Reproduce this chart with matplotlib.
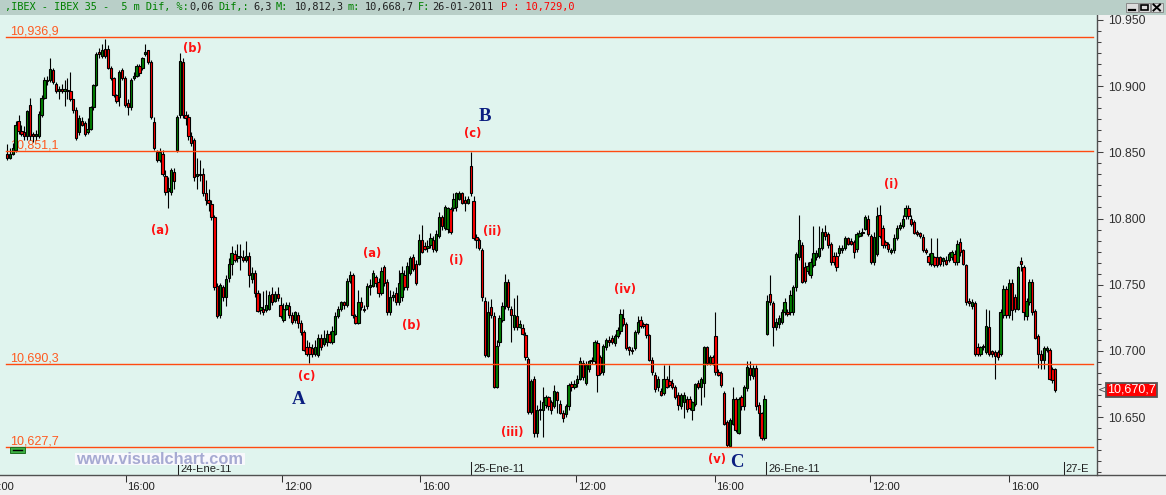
import matplotlib
matplotlib.use("Agg")
import matplotlib.pyplot as plt
import matplotlib.transforms as mtransforms
from matplotlib.patches import Rectangle
from matplotlib.lines import Line2D
from matplotlib.ticker import MultipleLocator, AutoMinorLocator, FuncFormatter
import numpy as np

# ---------------- data (5 minute bars, IBEX 35) ----------------
opens = [
    10849,10846,10849,10852,10874,10866,10865,10862,10886,10864,
    10862,10862,10878,10891,10905,10905,10912,10902,10896,10898,
    10896,10897,10896,10890,10882,10865,10874,10872,10865,10868,
    10884,10901,10926,10923,10928,10928,10914,10906,10893,10892,
    10912,10906,10887,10884,10906,10908,10915,10914,10924,10927,
    10918,10873,10850,10844,10849,10832,10821,10820,10835,10852,
    10878,10918,10878,10877,10862,10859,10832,10834,10834,10819,
    10814,10811,10801,10749,10727,10748,10741,10755,10766,10773,
    10770,10772,10771,10769,10772,10754,10759,10744,10731,10732,
    10731,10732,10743,10738,10743,10735,10723,10732,10734,10727,
    10723,10727,10721,10714,10703,10703,10702,10698,10697,10710,
    10705,10707,10713,10707,10713,10726,10732,10737,10735,10753,
    10757,10726,10721,10737,10732,10734,10748,10749,10756,10752,
    10744,10763,10752,10729,10741,10744,10737,10741,10757,10748,
    10759,10771,10766,10766,10784,10779,10778,10780,10784,10776,
    10787,10801,10793,10792,10807,10808,10809,10815,10819,10814,10812,
    10840,10813,10786,10784,10776,10738,10696,10733,10726,10673,
    10707,10723,10734,10752,10732,10718,10726,10718,10717,10712,
    10694,10654,10679,10638,10655,10655,10659,10665,10661,10658,
    10669,10660,10653,10652,10658,10675,10673,10676,10679,10691,
    10676,10686,10692,10692,10706,10695,10684,10703,10708,10710,
    10706,10711,10715,10725,10720,10703,10701,10702,10714,10723,
    10720,10720,10712,10693,10682,10673,10670,10668,10679,10677,
    10676,10673,10667,10658,10661,10664,10664,10655,10660,10676,
    10673,10676,10703,10691,10695,10711,10684,10683,10668,10646,
    10628,10645,10664,10638,10665,10658,10672,10687,10681,10687,10659,10653,10634,
    10713,10743,10736,10718,10720,10722,10729,10729,10729,10729,
    10748,10771,10780,10763,10760,10757,10765,10771,10772,10778,
    10790,10788,10781,10772,10772,10774,10776,10778,10785,10783,
    10782,10777,10787,10789,10792,10800,10787,10767,10773,10803,
    10793,10782,10781,10775,10776,10785,10793,10794,10802,10808,
    10800,10797,10790,10789,10786,10776,10772,10766,10771,10771,
    10771,10768,10769,10769,10771,10773,10767,10782,10776,10765,
    10738,10734,10736,10703,10698,10703,10699,10718,10700,10699,
    10699,10698,10727,10747,10727,10751,10741,10732,10768,10763,
    10726,10737,10752,10730,10711,10698,10693,10701,10701,10686,10686,
]
highs = [
    10856,10853,10857,10874,10878,10871,10870,10882,10891,10865,
    10867,10881,10893,10907,10908,10921,10914,10903,10900,10902,
    10905,10906,10911,10890,10884,10878,10877,10874,10876,10885,
    10902,10926,10929,10932,10936,10931,10915,10907,10894,10912,
    10914,10908,10890,10906,10911,10917,10917,10922,10932,10927,
    10920,10877,10852,10853,10852,10837,10831,10838,10838,10878,
    10925,10921,10881,10879,10865,10861,10846,10844,10838,10829,
    10822,10814,10803,10751,10751,10750,10757,10770,10779,10776,
    10781,10781,10776,10783,10775,10763,10761,10746,10744,10745,
    10746,10745,10748,10745,10748,10741,10736,10737,10737,10729,
    10730,10729,10723,10716,10708,10707,10705,10708,10713,10713,
    10716,10716,10715,10719,10729,10734,10738,10738,10755,10760,
    10759,10728,10746,10741,10735,10751,10754,10761,10757,10755,
    10763,10765,10754,10746,10745,10748,10761,10764,10761,10767,
    10772,10773,10769,10788,10795,10782,10784,10789,10787,10791,
    10805,10803,10810,10809,10809,10819,10820,10821,10820,10817,10817,
    10850,10817,10788,10785,10778,10741,10738,10739,10729,10708,
    10727,10737,10758,10754,10734,10740,10742,10723,10720,10714,
    10695,10679,10681,10659,10663,10673,10667,10666,10663,10674,
    10670,10663,10655,10660,10676,10677,10678,10682,10695,10693,
    10692,10693,10695,10708,10708,10697,10705,10710,10711,10712,
    10713,10718,10732,10732,10722,10704,10703,10716,10726,10726,
    10722,10721,10713,10695,10684,10681,10672,10689,10681,10689,
    10679,10674,10669,10668,10669,10666,10666,10662,10676,10678,
    10680,10704,10704,10697,10697,10729,10686,10685,10670,10648,
    10649,10673,10665,10665,10667,10674,10692,10692,10689,10689,10661,10654,10667,
    10742,10757,10738,10725,10727,10732,10740,10732,10746,10750,
    10775,10803,10782,10767,10767,10770,10794,10776,10794,10793,
    10795,10790,10782,10775,10775,10780,10780,10787,10786,10785,
    10784,10790,10791,10793,10803,10803,10788,10790,10809,10810,
    10795,10784,10782,10778,10788,10795,10797,10803,10810,10810,
    10803,10799,10791,10790,10788,10778,10774,10785,10772,10785,
    10772,10771,10772,10775,10776,10776,10784,10785,10777,10766,
    10740,10739,10738,10706,10704,10705,10732,10731,10701,10701,
    10701,10732,10750,10749,10754,10754,10743,10764,10771,10765,
    10740,10754,10754,10732,10713,10701,10704,10704,10702,10688,10687,
]
lows = [
    10844,10845,10848,10850,10864,10862,10859,10859,10859,10858,
    10859,10861,10877,10890,10901,10903,10902,10895,10890,10895,
    10885,10890,10889,10880,10859,10863,10870,10862,10864,10867,
    10882,10900,10921,10921,10921,10913,10905,10892,10887,10885,
    10905,10884,10878,10882,10905,10907,10908,10912,10923,10917,
    10875,10852,10843,10843,10832,10818,10808,10818,10822,10850,
    10876,10876,10871,10859,10855,10828,10822,10828,10817,10810,
    10806,10799,10746,10725,10725,10738,10734,10752,10757,10767,
    10767,10761,10767,10767,10748,10751,10741,10729,10728,10727,
    10729,10731,10735,10737,10738,10725,10722,10731,10725,10720,
    10721,10717,10712,10700,10696,10691,10695,10696,10695,10701,
    10704,10704,10706,10705,10712,10725,10730,10732,10733,10751,
    10725,10720,10720,10731,10729,10732,10742,10748,10748,10741,
    10742,10749,10727,10727,10738,10735,10735,10738,10746,10746,
    10757,10760,10750,10765,10774,10776,10775,10778,10775,10775,
    10785,10791,10791,10789,10788,10806,10806,10814,10811,10806,10811,
    10817,10784,10778,10776,10738,10695,10695,10725,10672,10672,
    10704,10722,10732,10731,10707,10716,10716,10717,10712,10693,
    10652,10652,10635,10635,10648,10635,10657,10655,10652,10657,
    10653,10652,10646,10650,10655,10670,10671,10673,10678,10678,
    10674,10684,10690,10690,10669,10682,10682,10701,10704,10705,
    10704,10710,10713,10719,10701,10697,10698,10701,10713,10717,
    10717,10710,10692,10682,10669,10670,10666,10667,10672,10673,
    10671,10664,10655,10656,10649,10654,10655,10648,10658,10671,
    10659,10665,10689,10689,10689,10682,10681,10673,10644,10627,
    10627,10644,10639,10637,10655,10655,10670,10678,10679,10655,10636,10633,10633,
    10712,10735,10704,10716,10717,10720,10727,10726,10727,10727,
    10745,10769,10751,10751,10758,10755,10763,10769,10770,10776,
    10784,10778,10765,10765,10760,10772,10774,10776,10780,10780,
    10770,10775,10786,10787,10791,10787,10766,10765,10772,10785,
    10778,10778,10775,10773,10774,10784,10791,10793,10800,10800,
    10794,10788,10787,10785,10775,10773,10765,10764,10763,10763,
    10764,10764,10765,10767,10769,10765,10765,10772,10765,10735,
    10734,10732,10696,10696,10696,10701,10698,10696,10695,10679,
    10693,10696,10725,10725,10725,10723,10729,10731,10760,10723,
    10723,10735,10727,10709,10687,10686,10686,10699,10678,10676,10669,
]
closes = [
    10846,10849,10853,10871,10866,10864,10862,10881,10862,10862,
    10864,10879,10891,10905,10904,10913,10903,10896,10898,10896,
    10898,10896,10890,10882,10861,10876,10871,10864,10868,10884,
    10901,10924,10924,10927,10923,10914,10906,10893,10889,10911,
    10906,10886,10884,10905,10908,10915,10910,10921,10926,10918,
    10877,10853,10844,10850,10834,10820,10823,10837,10828,10877,
    10919,10878,10876,10862,10857,10831,10834,10833,10819,10814,
    10812,10801,10748,10726,10750,10741,10754,10766,10774,10769,
    10772,10771,10769,10772,10757,10759,10744,10730,10733,10729,
    10735,10742,10737,10743,10740,10726,10732,10735,10727,10722,
    10729,10721,10714,10701,10698,10698,10698,10703,10710,10703,
    10710,10713,10707,10715,10726,10732,10737,10735,10753,10757,
    10727,10721,10737,10733,10731,10749,10750,10759,10751,10744,
    10760,10751,10729,10741,10742,10737,10751,10759,10748,10764,
    10770,10762,10751,10784,10775,10777,10779,10785,10777,10788,
    10801,10794,10809,10808,10790,10815,10819,10819,10812,10812,10815,
    10819,10785,10784,10778,10741,10697,10729,10727,10673,10704,
    10725,10734,10752,10733,10727,10727,10718,10720,10713,10695,
    10654,10677,10638,10655,10656,10661,10665,10658,10655,10670,
    10663,10653,10649,10658,10674,10673,10675,10679,10692,10680,
    10689,10692,10693,10707,10682,10683,10704,10708,10707,10707,
    10711,10716,10728,10720,10702,10701,10700,10714,10722,10719,
    10719,10712,10693,10684,10671,10679,10667,10679,10673,10674,
    10673,10665,10659,10667,10667,10656,10657,10661,10675,10673,
    10679,10703,10691,10695,10691,10684,10682,10674,10645,10629,
    10648,10664,10640,10664,10658,10673,10688,10682,10687,10658,10653,10634,10664,
    10738,10737,10718,10722,10725,10729,10737,10728,10742,10748,
    10773,10784,10752,10753,10764,10767,10774,10774,10778,10790,
    10787,10780,10767,10767,10763,10778,10778,10785,10781,10781,
    10775,10788,10789,10790,10801,10788,10767,10786,10802,10787,
    10780,10780,10777,10776,10785,10793,10795,10800,10808,10802,
    10796,10789,10788,10787,10776,10775,10767,10774,10765,10765,
    10766,10770,10766,10773,10775,10767,10781,10775,10766,10737,
    10736,10737,10698,10698,10703,10704,10719,10698,10698,10696,
    10695,10729,10747,10727,10751,10731,10732,10763,10766,10729,
    10738,10752,10729,10710,10698,10693,10702,10702,10679,10678,10670.7,
]

levels = [10936.9, 10851.1, 10690.3, 10627.7]
level_labels = ["10,936,9", "10,851,1", "10,690,3", "10,627,7"]

hour_labels = ["12:00", "16:00", "12:00", "16:00", "12:00", "16:00", "12:00", "16:00"]
hour_ticks = [-7.9, 41.15, 95.49, 143.40, 197.57, 245.66, 299.65, 347.92]
date_labels = ["24-Ene-11", "25-Ene-11", "26-Ene-11", "27-E"]
date_ticks = [59.38, 161.11, 263.54, 367.01]

wave_labels = ["(b)", "(a)", "(c)", "(a)", "(b)", "(i)", "(c)", "(ii)",
               "(iii)", "(iv)", "(v)", "(i)"]
wave_x = [64.2, 53.1, 104.2, 126.7, 140.3, 155.9, 161.6, 168.4, 175.3, 214.5, 246.6, 306.9]
wave_y = [10928.3, 10790.8, 10681.0, 10773.7, 10718.8, 10767.9, 10864.4, 10790.5,
          10638.2, 10746.5, 10618.0, 10826.0]
big_labels = ["A", "B", "C"]
big_x = [101.2, 165.8, 253.6]
big_y = [10659.6, 10873.7, 10612.2]

header_parts = [(",IBEX - IBEX 35 -  5 m Dif, %:", "#008000", 4.6),
                ("0,06", "#202020", 189), ("Dif,:", "#008000", 218),
                ("6,3", "#202020", 253), ("M:", "#008000", 276),
                ("10,812,3", "#202020", 295), ("m:", "#008000", 347),
                ("10,668,7", "#202020", 365), ("F:", "#008000", 418),
                ("26-01-2011", "#202020", 432), ("P : 10,729,0", "#ff0000", 501)]

# ---------------- layout ----------------
W, H = 1166, 495
fig = plt.figure(figsize=(W / 100, H / 100), dpi=100, facecolor="#f0f0f0")


def fx(px):
    return px / W


def fy(py):
    return 1 - py / H


PLOT_TOP, PLOT_BOTTOM, PLOT_RIGHT = 14.7, 475.0, 1096.5
X0, DX = 7.0, 2.88          # pixel of first bar, pixel spacing of bars

ax = fig.add_axes([0, fy(PLOT_BOTTOM), fx(PLOT_RIGHT), (PLOT_BOTTOM - PLOT_TOP) / H])
ax.set_facecolor("#e0f4ee")
ax.set_xlim(-X0 / DX, (PLOT_RIGHT - X0) / DX)
ax.set_ylim(10606.2, 10954.0)

o = np.array(opens, float)
hi = np.array(highs, float)
lo = np.array(lows, float)
c = np.array(closes, float)
x = np.arange(len(c))
up = c >= o
body_lo = np.minimum(o, c)
body_hi = np.maximum(o, c)
body_h = np.maximum(body_hi - body_lo, 0.7)
cols = np.where(up, "#008000", "#ff0000")

ax.vlines(x, np.minimum(lo, body_lo), np.maximum(hi, body_hi), color="black",
          lw=0.8, zorder=2)
ax.bar(x, body_h, bottom=body_lo, width=0.8, color=cols, edgecolor="black",
       linewidth=0.8, zorder=3)

# horizontal levels
for lv, lab in zip(levels, level_labels):
    ax.axhline(lv, xmin=6 / PLOT_RIGHT, xmax=1093 / PLOT_RIGHT, color="#ff4a10",
               lw=1.0, zorder=4)
    ax.annotate(lab, xy=(10 / PLOT_RIGHT, lv), xycoords=("axes fraction", "data"),
                xytext=(0, 1.8), textcoords="offset points", ha="left", va="baseline",
                fontsize=9, family="Liberation Sans", color="#ff5a20", zorder=1.5)

# wave labels
for lab, wx, wy in zip(wave_labels, wave_x, wave_y):
    ax.text(wx, wy, lab, ha="center", va="center", fontsize=8.3, fontweight="bold",
            family="DejaVu Sans", color="#ff1010", zorder=5)
for lab, bx, by in zip(big_labels, big_x, big_y):
    ax.text(bx, by, lab, ha="center", va="baseline", fontsize=13.5, fontweight="bold",
            family="Liberation Serif", color="#0a1e80", zorder=5)

# y axis on right
ax.yaxis.tick_right()
ax.yaxis.set_major_locator(MultipleLocator(50))
ax.yaxis.set_minor_locator(AutoMinorLocator(6))
ax.yaxis.set_major_formatter(FuncFormatter(lambda v, p: f"{v / 1000:.3f}"))
ax.tick_params(axis="y", which="major", direction="out", length=4.3, width=0.75,
               color="#404040", pad=4, labelsize=8.8, labelcolor="#303030")
ax.tick_params(axis="y", which="minor", direction="out", length=3.0, width=0.75,
               color="#404040")
for lbl in ax.get_yticklabels():
    lbl.set_family("Liberation Sans")

for s in ["top", "left", "bottom"]:
    ax.spines[s].set_visible(False)
ax.spines["right"].set_color("#505050")
ax.spines["right"].set_linewidth(1.0)

# x axis: hour ticks below, date markers inside
xl = ax.get_xlim()
ax.set_xticks([t for t in hour_ticks if xl[0] <= t <= xl[1]])
ax.set_xticklabels([])
ax.tick_params(axis="x", direction="out", length=5.2, width=0.75, color="#303030")
for t, lab in zip(hour_ticks, hour_labels):
    ax.annotate(lab, xy=(t, 0), xycoords=("data", "axes fraction"), xytext=(1.4, -10.8),
                textcoords="offset points", ha="left", va="baseline", fontsize=8,
                family="Liberation Sans", color="#202020", annotation_clip=False)
for t, lab in zip(date_ticks, date_labels):
    ax.axvline(t, ymin=0, ymax=13 / (PLOT_BOTTOM - PLOT_TOP), color="#202020", lw=0.75,
               zorder=4)
    ax.annotate(lab, xy=(t, 0), xycoords=("data", "axes fraction"), xytext=(1.4, 2.0),
                textcoords="offset points", ha="left", va="baseline", fontsize=8,
                family="Liberation Sans", color="#202020", zorder=4)

# full-width bottom border line
fig.add_artist(Line2D([0, 1], [fy(PLOT_BOTTOM)] * 2, transform=fig.transFigure,
                      color="#505050", lw=1.0))

# last price box on the right axis
last = closes[-1]
last_txt = f"{last:,.1f}".replace(".", ",")
trans = mtransforms.blended_transform_factory(fig.transFigure, ax.transData)
ax.text(fx(1107), last, last_txt, transform=trans, ha="left", va="center",
        fontsize=9, family="Liberation Sans", color="white", clip_on=False, zorder=6,
        bbox=dict(boxstyle="square,pad=0.08", fc="#ff0000", ec="#555555", lw=1.3))
ax.text(fx(1097.5), last, "<", transform=trans, ha="left", va="center", fontsize=7.5,
        family="DejaVu Sans", color="#505050", clip_on=False)

# watermark
fig.add_artist(Rectangle((fx(74.6), fy(464.5)), fx(245 - 74.6), 12.0 / H,
                         transform=fig.transFigure, fc="#f8f8fc", ec="none", zorder=3))
fig.text(fx(160), fy(463.5), "www.visualchart.com", ha="center", va="baseline",
         fontsize=11.8, fontweight="bold", family="Liberation Sans", color="#a6aad2",
         zorder=4)

# green indicator
fig.add_artist(Rectangle((fx(9.6), fy(452.7)), fx(15.4), 5.4 / H, transform=fig.transFigure,
                         fc="#3cb043", ec="#1e6e1e", lw=0.7, zorder=4))
fig.add_artist(Line2D([fx(12.5), fx(22)], [fy(450)] * 2, transform=fig.transFigure,
                      color="black", lw=1.0, zorder=5))

# header bar
hax = fig.add_axes([0, fy(PLOT_TOP), 1, PLOT_TOP / H], zorder=5)
hax.set_facecolor("#b9cfc8")
hax.set_xlim(0, W)
hax.set_ylim(PLOT_TOP, 0)
hax.set_xticks([])
hax.set_yticks([])
for s in hax.spines.values():
    s.set_visible(False)
for txt, col, px in header_parts:
    hax.text(px, 7.4, txt, color=col, fontsize=7.4, family="DejaVu Sans Mono",
             ha="left", va="center")
# window buttons
for bx0, bx1 in [(1126, 1137.5), (1138.5, 1150), (1151, 1162.5)]:
    hax.add_patch(Rectangle((bx0, 2.7), bx1 - bx0, 9.3, fc="#dcdcdc", ec="#8a8a8a", lw=0.7))
hax.plot([1129, 1134.5], [10.2, 10.2], color="black", lw=1.6)
hax.add_patch(Rectangle((1140.5, 4.5), 7.5, 6, fc="none", ec="black", lw=1.2))
hax.plot([1153.5, 1160], [4.5, 10.5], color="black", lw=1.4)
hax.plot([1153.5, 1160], [10.5, 4.5], color="black", lw=1.4)

fig.savefig("out.png", dpi=100, facecolor=fig.get_facecolor())
